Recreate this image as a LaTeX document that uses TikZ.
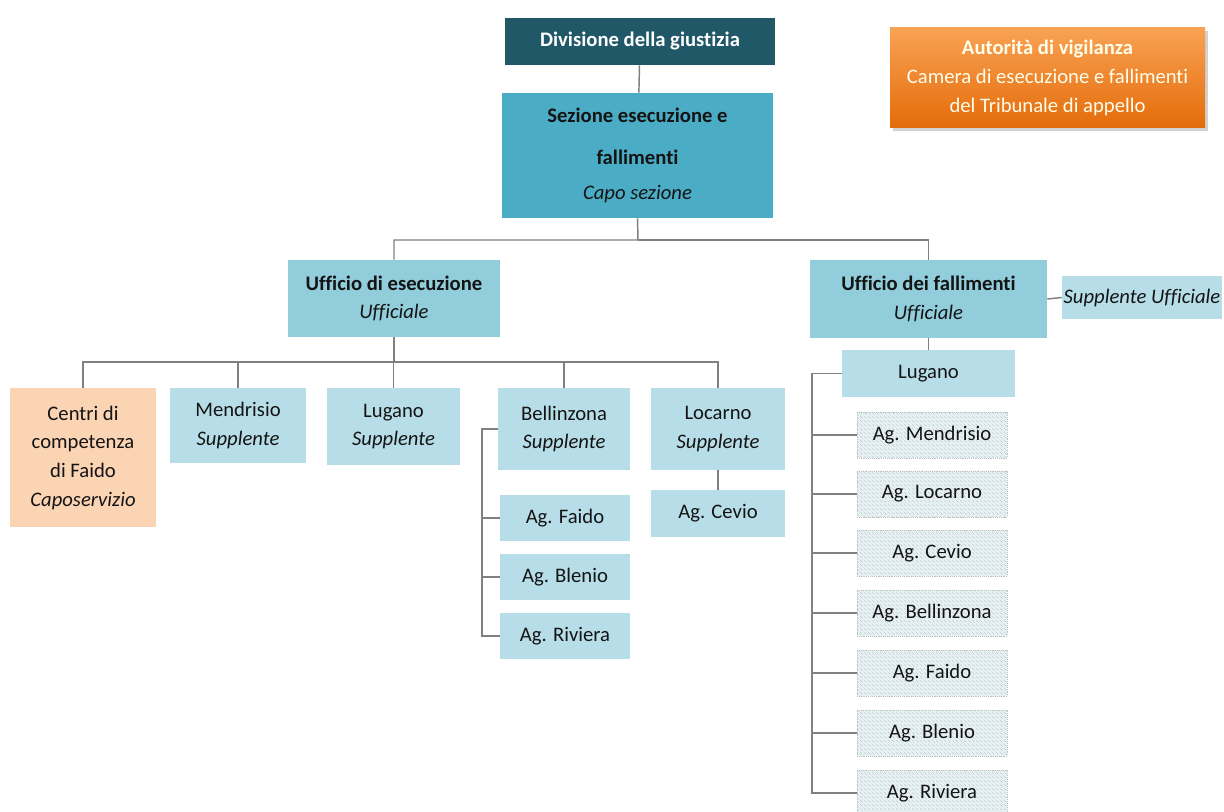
\documentclass[tikz,border=0pt]{standalone}
\usepackage{fontspec}
\setmainfont{Carlito}[Ligatures=NoCommon]
\usetikzlibrary{patterns}
\usetikzlibrary{shadows}
\definecolor{divcol}{HTML}{215868}
\definecolor{sezcol}{HTML}{4BACC6}
\definecolor{midcol}{HTML}{92CDDC}
\definecolor{lightcol}{HTML}{B7DEE8}
\definecolor{peachcol}{HTML}{FBD4B4}
\definecolor{hatchbg}{HTML}{E8F2F5}
\definecolor{hatchln}{HTML}{9FB3B9}
\definecolor{linkcol}{HTML}{808080}
\definecolor{orangetop}{HTML}{F9A254}
\definecolor{orangebot}{HTML}{E46C0A}
\definecolor{inkcol}{HTML}{141414}
\tikzstyle{unit}=[rectangle, inner sep=0pt, align=center, text=inkcol,
  font=\fontsize{15.5}{21.5}\selectfont]
\tikzstyle{head unit}=[unit, fill=divcol, text=white]
\tikzstyle{section unit}=[unit, fill=sezcol]
\tikzstyle{office unit}=[unit, fill=midcol]
\tikzstyle{branch unit}=[unit, fill=lightcol]
\tikzstyle{centre unit}=[unit, fill=peachcol]
\tikzstyle{agency unit}=[unit, preaction={fill=hatchbg}, pattern=north west lines,
  pattern color=hatchln, draw=gray!50, densely dotted,
  minimum width=112.5pt, minimum height=34.5pt]
\tikzstyle{supervisor}=[unit, text=white!92!yellow, top color=orangetop, bottom color=orangebot,
  drop shadow={opacity=0.35, shadow xshift=2pt, shadow yshift=-2pt}]
\tikzstyle{link}=[draw=linkcol, line width=1.1pt]

\begin{document}
\begin{tikzpicture}[x=0.75pt, y=-0.75pt]
      \path[use as bounding box, fill=white] (0,0) rectangle (1224,812);
      % top of the chart
      \node[head unit, minimum width=202.5pt, minimum height=35.25pt] (div) at (640,41.5)
        {\textbf{Divisione della giustizia}};
      \node[section unit, minimum width=203.25pt, minimum height=93.75pt] (sez) at (637.5,155.5)
        {\textbf{Sezione esecuzione e}\\[10pt]\textbf{fallimenti}\\[4.5pt]\textit{Capo sezione}};
      \node[supervisor, minimum width=236.25pt, minimum height=75pt] (aut) at (1047.5,78)
        {\textbf{Autorità di vigilanza}\\Camera di esecuzione e fallimenti\\del Tribunale di appello};
      % offices
      \node[office unit, minimum width=159pt, minimum height=57.75pt] (ese) at (394,298.5)
        {\textbf{Ufficio di esecuzione}\\\textit{Ufficiale}};
      \node[office unit, minimum width=177.75pt, minimum height=58.5pt] (fal) at (928.5,299)
        {\textbf{Ufficio dei fallimenti}\\\textit{Ufficiale}};
      \node[branch unit, minimum width=120pt, minimum height=32.25pt] (supuff) at (1142,297.5)
        {\textit{Supplente Ufficiale}};
      % branches of the Ufficio di esecuzione
      \node[centre unit, minimum width=109.5pt, minimum height=104.25pt] (cen) at (83,457.5)
        {Centri di\\competenza\\di Faido\\\textit{Caposervizio}};
      \node[branch unit, minimum width=102pt, minimum height=56.25pt] (men) at (238,425.5)
        {Mendrisio\\\textit{Supplente}};
      \node[branch unit, minimum width=99.75pt, minimum height=57.75pt] (lug) at (393.5,426.5)
        {Lugano\\\textit{Supplente}};
      \node[branch unit, minimum width=99pt, minimum height=61.5pt] (bel) at (564,429)
        {Bellinzona\\\textit{Supplente}};
      \node[branch unit, minimum width=100.5pt, minimum height=61.5pt] (loc) at (718,429)
        {Locarno\\\textit{Supplente}};
      \node[branch unit, minimum width=97.5pt, minimum height=34.5pt] (belfai) at (565,518) {Ag. Faido};
      \node[branch unit, minimum width=97.5pt, minimum height=34.5pt] (belble) at (565,577) {Ag. Blenio};
      \node[branch unit, minimum width=97.5pt, minimum height=34.5pt] (belriv) at (565,636) {Ag. Riviera};
      \node[branch unit, minimum width=100.5pt, minimum height=35.25pt] (loccev) at (718,513.5) {Ag. Cevio};
      % branches of the Ufficio dei fallimenti
      \node[branch unit, minimum width=129.75pt, minimum height=35.25pt] (fallug) at (928.5,373.5) {Lugano};
      \node[agency unit] (agmen) at (932,435) {Ag. Mendrisio};
      \node[agency unit] (agloc) at (932,494) {Ag. Locarno};
      \node[agency unit] (agcev) at (932,553) {Ag. Cevio};
      \node[agency unit] (agbel) at (932,613) {Ag. Bellinzona};
      \node[agency unit] (agfai) at (932,673) {Ag. Faido};
      \node[agency unit] (agble) at (932,733) {Ag. Blenio};
      \node[agency unit] (agriv) at (932,793) {Ag. Riviera};
      % connectors
      \coordinate (busA) at (638,240);
      \coordinate (busB) at (394,362);
      \coordinate (belspine) at (482,0);
      \coordinate (falspine) at (812,0);
      \draw[link] (div) -- (sez);
      \draw[link] (sez.south) -- (busA) -| (ese.north);
      \draw[link] (busA) -| (fal.north);
      \draw[link] (fal.east) -- (supuff.west);
      \draw[link] (ese.south) -- (busB);
      \foreach \n in {cen,men,lug,bel,loc}
        \draw[link] (busB) -| (\n.north);
      \draw[link] (bel.west) -- (bel.west -| belspine) |- (belriv.west);
      \foreach \n in {belfai,belble}
        \draw[link] (\n.west -| belspine) -- (\n.west);
      \draw[link] (loc) -- (loccev);
      \draw[link] (fal) -- (fallug);
      \draw[link] (fallug.west) -- (fallug.west -| falspine) |- (agriv.west);
      \foreach \n in {agmen,agloc,agcev,agbel,agfai,agble}
        \draw[link] (\n.west -| falspine) -- (\n.west);
    \end{tikzpicture}
\end{document}
